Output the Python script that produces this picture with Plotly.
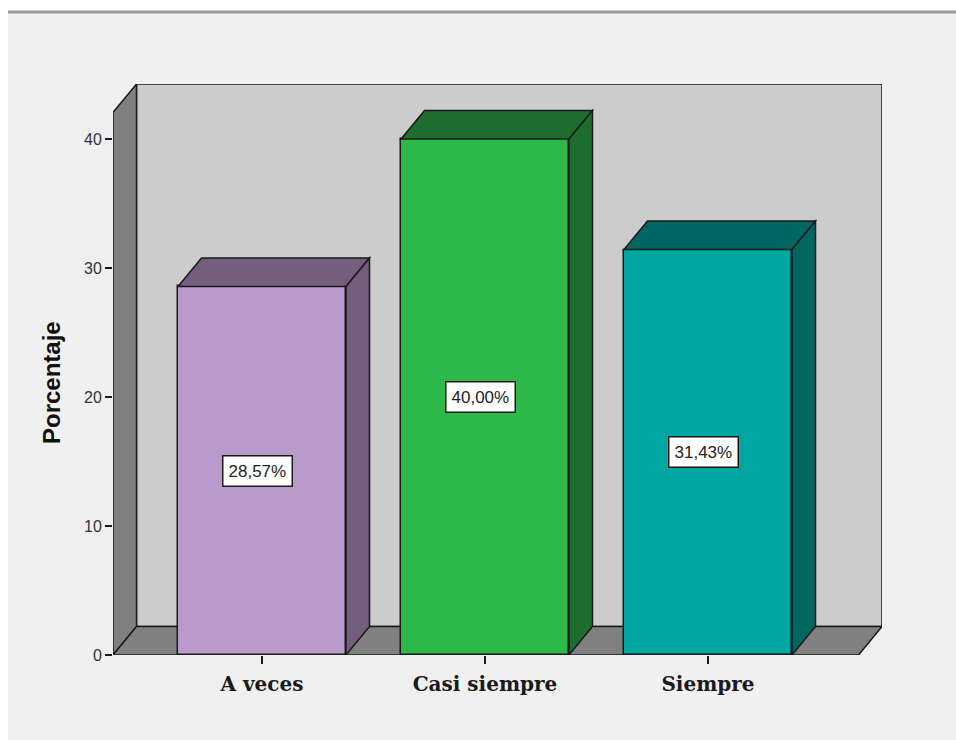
import plotly.graph_objects as go

# Data
categories = ["A veces", "Casi siempre", "Siempre"]
percentages = [28.57, 40.00, 31.43]
value_labels = ["28,57%", "40,00%", "31,43%"]
y_ticks = [0, 10, 20, 30, 40]

front_colors = ["#b899c9", "#2db84a", "#00a6a1"]
shade_colors = ["#735f7d", "#1d6d2f", "#006661"]

W, H = 956, 740
L, R, T, B = 113, 74, 84, 85
plot_w = W - L - R
plot_h = H - T - B

# axis scale
px_per_x = 223.0
x_center0 = 262.0
px_per_y = 12.9
x_range = [(L - x_center0) / px_per_x, (W - R - x_center0) / px_per_x]
y_range = [0, plot_h / px_per_y]

# 3D depth offset in data units
dx = 23.5 / px_per_x
dy = 28.5 / px_per_y
bar_w = 168 / px_per_x

xl, xr = x_range
ytop = y_range[1]

shapes = []
outline = dict(color="#1a1a1a", width=1.5)

def ppx(px):
    return (px - L) / plot_w

def ppy(py):
    return (H - B - py) / plot_h

# page background and top rule
shapes.append(dict(type="rect", xref="paper", yref="paper", layer="below",
                   x0=ppx(8), x1=ppx(W + 5), y0=ppy(H + 5), y1=ppy(12),
                   fillcolor="#f0f0f0", line=dict(width=0)))
shapes.append(dict(type="line", xref="paper", yref="paper", layer="below",
                   x0=ppx(8), x1=ppx(W + 5), y0=ppy(12), y1=ppy(12),
                   line=dict(color="#9a9a9a", width=3)))

# back wall
shapes.append(dict(type="rect", xref="x", yref="y", layer="below",
                   x0=xl + dx, x1=xr, y0=dy, y1=ytop,
                   fillcolor="#cccccc", line=outline))
# left wall
shapes.append(dict(type="path", xref="x", yref="y", layer="below",
                   path=f"M {xl},0 L {xl},{ytop - dy} L {xl + dx},{ytop} L {xl + dx},{dy} Z",
                   fillcolor="#808080", line=outline))
# floor
shapes.append(dict(type="path", xref="x", yref="y", layer="below",
                   path=f"M {xl},0 L {xr - dx},0 L {xr},{dy} L {xl + dx},{dy} Z",
                   fillcolor="#808080", line=outline))

# bar tops and sides
for i, v in enumerate(percentages):
    a = i - bar_w / 2
    b = i + bar_w / 2
    shapes.append(dict(type="path", xref="x", yref="y", layer="above",
                       path=f"M {a},{v} L {b},{v} L {b + dx},{v + dy} L {a + dx},{v + dy} Z",
                       fillcolor=shade_colors[i], line=outline))
    shapes.append(dict(type="path", xref="x", yref="y", layer="above",
                       path=f"M {b},0 L {b},{v} L {b + dx},{v + dy} L {b + dx},{dy} Z",
                       fillcolor=shade_colors[i], line=outline))

fig = go.Figure()
fig.add_trace(go.Bar(
    x=list(range(len(categories))), y=percentages, width=bar_w,
    marker=dict(color=front_colors, line=dict(color="#1a1a1a", width=1.5)),
    hoverinfo="skip", showlegend=False,
))

annotations = []
for i, v in enumerate(percentages):
    annotations.append(dict(
        x=i - 5 / px_per_x, y=v / 2, xref="x", yref="y", text=value_labels[i],
        showarrow=False, bgcolor="white", bordercolor="#1a1a1a", borderwidth=1.5,
        borderpad=5, font=dict(family="Liberation Sans, Arial", size=17, color="#222"),
    ))

annotations.append(dict(
    x=ppx(51), y=ppy(383), xref="paper", yref="paper", text="<b>Porcentaje</b>",
    textangle=-90, showarrow=False, xanchor="center", yanchor="middle",
    font=dict(family="Liberation Sans, Arial", size=24, color="#111"),
))

fig.update_layout(
    width=W, height=H,
    margin=dict(l=L, r=R, t=T, b=B),
    paper_bgcolor="white", plot_bgcolor="rgba(0,0,0,0)",
    shapes=shapes, annotations=annotations,
    xaxis=dict(range=x_range, tickvals=list(range(len(categories))),
               ticktext=[f"<b>{c}</b>" for c in categories],
               ticks="outside", ticklen=8, tickwidth=1.5, tickcolor="#1a1a1a",
               ticklabelstandoff=3,
               showgrid=False, zeroline=False, showline=False,
               tickfont=dict(family="DejaVu Serif", size=20, color="#1a1a1a")),
    yaxis=dict(range=y_range, tickvals=y_ticks, ticks="outside", ticklen=7,
               tickwidth=1.5, tickcolor="#1a1a1a", showgrid=False, zeroline=False,
               showline=False,
               tickfont=dict(family="Liberation Sans, Arial", size=16, color="#333")),
    bargap=0,
)

fig.write_html("out.html")
